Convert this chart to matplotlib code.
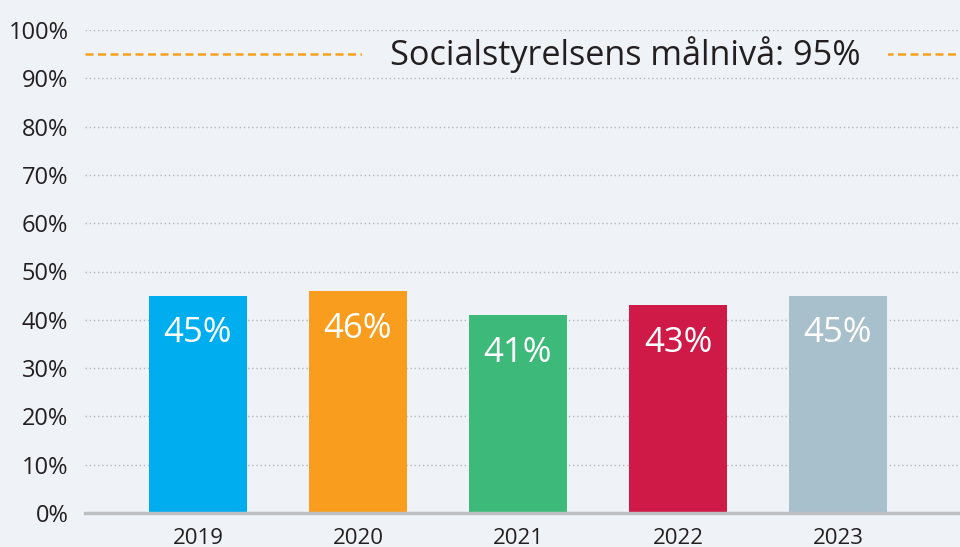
#!/usr/bin/env python3

import matplotlib
matplotlib.use('Agg')
import matplotlib.pyplot as plt
from matplotlib.ticker import MultipleLocator, FuncFormatter


years = ['2019', '2020', '2021', '2022', '2023']
values = [45, 46, 41, 43, 45]
colors = ['#00aeef', '#f89d1e', '#3dba79', '#cf1a47', '#a8c0cc']
target = 95
target_label = 'Socialstyrelsens målnivå: 95%'

bg = '#eff3f7'

plt.rcParams['font.family'] = ['Open Sans', 'DejaVu Sans']


def plot():
    fig = plt.figure(figsize=(9.6, 5.47), dpi=100, facecolor=bg)
    ax = fig.add_axes([85 / 960, 34 / 547, 1 - 85 / 960, 483 / 547])
    ax.set_facecolor(bg)
    ax.set_axisbelow(True)  # grid at zorder 0.5

    x = list(range(len(years)))
    bars = ax.bar(x, values, width=0.61, color=colors, zorder=3)

    # labels inside the bars
    for b, v in zip(bars, values):
        ax.annotate(f'{v}%', (b.get_x() + b.get_width() / 2, b.get_height()),
                    xytext=(0, -15), textcoords='offset points',
                    ha='center', va='top', color='white', fontsize=25, zorder=4)

    # target line, the label box cuts a gap in it (grid stays on top)
    ax.axhline(target, color='#f7a21b', lw=1.8, dashes=(3.2, 1.8), zorder=0.2)
    ax.text(2.67, target, target_label, ha='center', va='center', fontsize=24.7,
            color='#231f20', zorder=0.3,
            bbox=dict(facecolor=bg, edgecolor='none', boxstyle='square,pad=0.8'))

    ax.set_ylim(0, 100)
    ax.set_xlim((85 - 198) / 160, (960 - 198) / 160)
    ax.yaxis.set_major_locator(MultipleLocator(10))
    ax.yaxis.set_major_formatter(FuncFormatter(lambda v, p: f'{v:.0f}%'))
    ax.set_xticks(x)
    ax.set_xticklabels(years)

    ax.grid(axis='y', color='#b5b8bb', lw=1.0, linestyle=(0, (1, 2)))
    for s in ['top', 'right', 'left']:
        ax.spines[s].set_visible(False)
    ax.spines['bottom'].set_color('#bcbec0')
    ax.spines['bottom'].set_linewidth(2.5)
    ax.spines['bottom'].set_zorder(4)

    ax.tick_params(axis='y', length=0, labelsize=17, labelcolor='#231f20', pad=12)
    ax.tick_params(axis='x', length=0, labelsize=16, labelcolor='#231f20', pad=11)

    fig.savefig('out.png', dpi=100, facecolor=bg)


def main():
    plot()


if __name__ == '__main__':
    main()
